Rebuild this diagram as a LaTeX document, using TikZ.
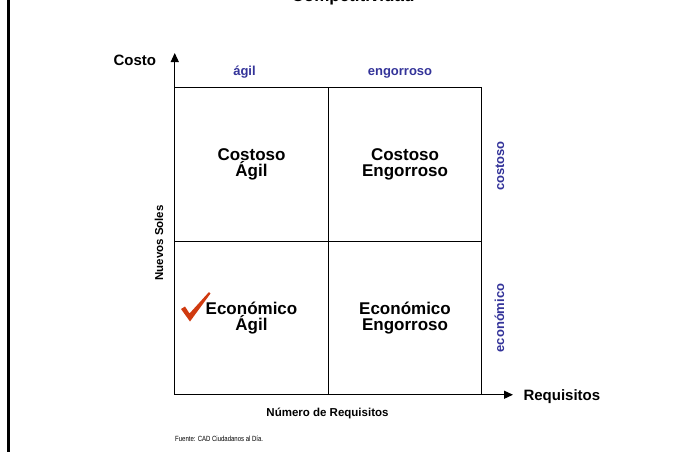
\documentclass[tikz,border=0pt]{standalone}
\usepackage{fontspec}
\setmainfont{Liberation Sans}
\usetikzlibrary{shapes,arrows,arrows.meta}
\usetikzlibrary{positioning}
\definecolor{azul}{RGB}{51,51,153}
\definecolor{rojo}{RGB}{208,58,16}
\tikzset{cell/.style={draw, line width=1pt, minimum size=153.5pt, outer sep=0pt,
    inner sep=0pt, align=center, font=\bfseries\fontsize{17}{16}\selectfont},
axis label/.style={font=\bfseries\fontsize{15}{15}\selectfont},
side label/.style={text=azul, font=\bfseries\fontsize{13}{13}\selectfont},
small label/.style={font=\bfseries\fontsize{11.5}{12}\selectfont},
axis/.style={line width=1.2pt, -{Triangle[length=9pt,width=8pt]}}
}

\begin{document}
\begin{tikzpicture}[x=1pt, y=-1pt, node distance=153.5pt, on grid]
        \useasboundingbox (0,0) rectangle (695,452);
        \draw[line width=3pt] (8.5,0) -- (8.5,452);
        \node[font=\bfseries\fontsize{17}{17}\selectfont, anchor=base] (title) at (353,1.5) {Competitividad};

        % cuadrantes
        \node[cell]            (c_11) at (251.5,164.5) {Costoso\\Ágil};
        \node[cell] (c_12) [right =of c_11] {Costoso\\Engorroso};
        \node[cell] (c_21) [below =of c_11] {Económico\\Ágil};
        \node[cell] (c_22) [right =of c_21] {Económico\\Engorroso};

        % ejes
        \coordinate (ytip) at (c_21.south west |- 0,53);
        \coordinate (xtip) at (c_21.south west -| 513,0);
        \draw[axis] (c_21.south west) -- (ytip);
        \draw[axis] (c_21.south west) -- (xtip);

        \node[axis label, anchor=base west] (costo) at (110,66) {Costo};
        \node[axis label, anchor=base west] (req)   at (520,400) {Requisitos};
        \node[side label, anchor=base] (agil)  at (244.5,75) {ágil};
        \node[side label, anchor=base] (engo)  at (400,75)   {engorroso};
        \node[side label, anchor=base, rotate=90] (cost) at (504,166) {costoso};
        \node[side label, anchor=base, rotate=90] (econ) at (504,318) {económico};
        \node[small label, anchor=base, rotate=90] (soles) at (163,243) {Nuevos Soles};
        \node[small label, anchor=base] (numreq) at (327.5,416) {Número de Requisitos};
        \node[anchor=base west, inner sep=0pt, font=\fontsize{7.5}{8}\selectfont] (fuente) at (175,441)
            {\scalebox{0.8}[1]{Fuente: CAD Ciudadanos al Día.}};

        \fill[rojo] (181,309) -- (185,306.5) -- (189.5,313.5) -- (209,292) -- (210.5,293.5) -- (190,321.5) -- cycle;
      \end{tikzpicture}
\end{document}
